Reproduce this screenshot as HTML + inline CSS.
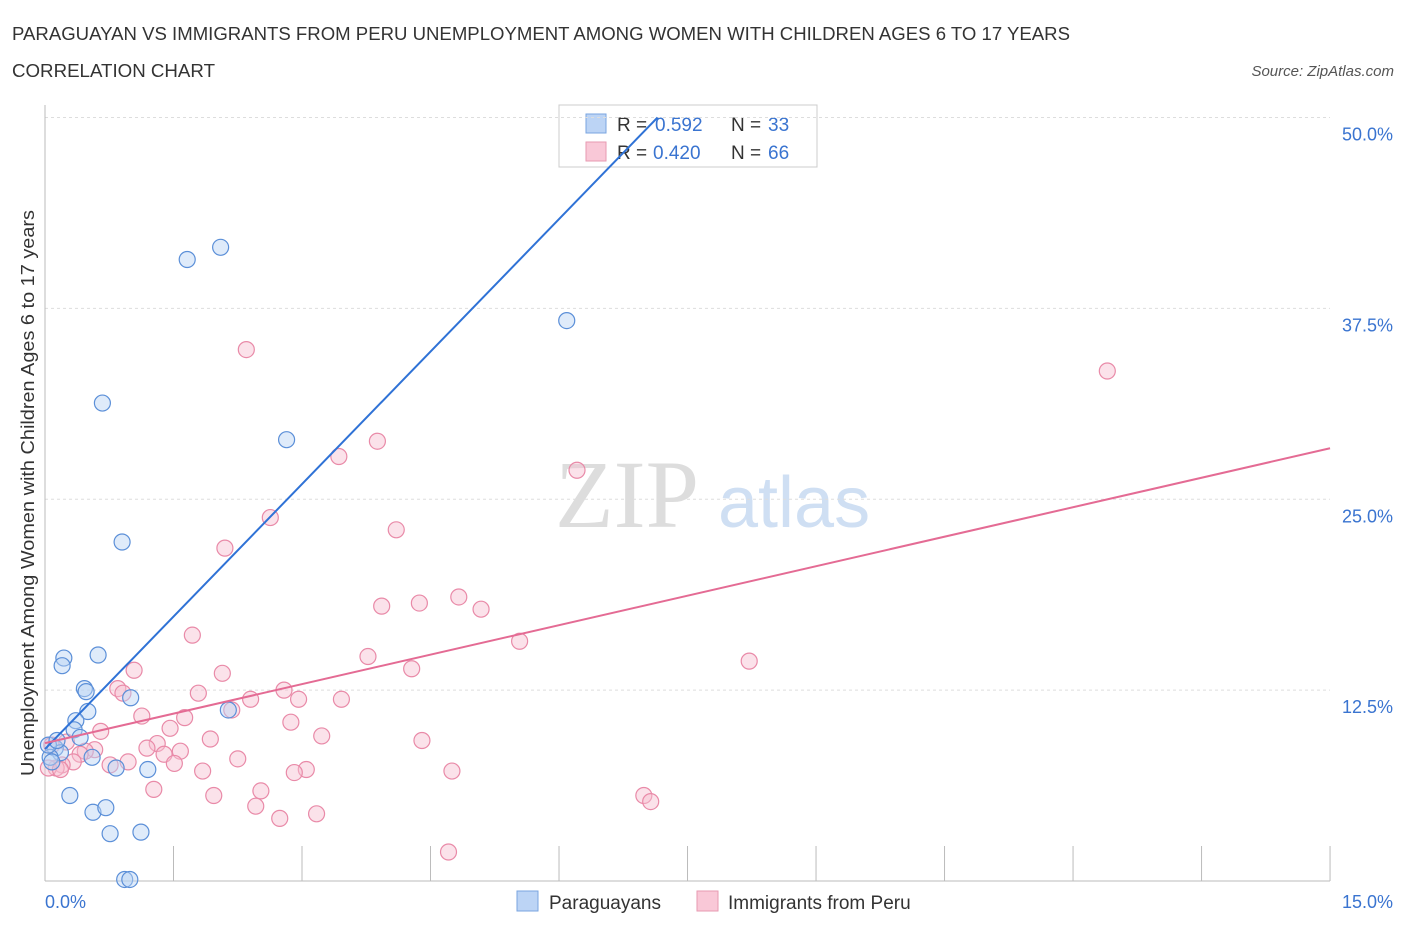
<!DOCTYPE html>
<html><head><meta charset="utf-8"><style>
body{margin:0;background:#fff;font-family:"Liberation Sans",sans-serif;}
svg{display:block}
</style></head><body>
<svg width="1406" height="930" xmlns="http://www.w3.org/2000/svg">
<text x="12" y="40" font-size="18" textLength="1058" lengthAdjust="spacingAndGlyphs" fill="#333">PARAGUAYAN VS IMMIGRANTS FROM PERU UNEMPLOYMENT AMONG WOMEN WITH CHILDREN AGES 6 TO 17 YEARS</text>
<text x="12" y="77" font-size="18" textLength="203" lengthAdjust="spacingAndGlyphs" fill="#333">CORRELATION CHART</text>
<text x="1394" y="76" font-size="15" fill="#555" font-style="italic" text-anchor="end">Source: ZipAtlas.com</text>
<text x="555" y="527" font-size="96" fill="#ddd" font-family="Liberation Serif,serif">ZIP</text>
<text x="718" y="527" font-size="72" fill="#cfdff3">atlas</text>
<g>
<rect x="559" y="105" width="258" height="62" fill="#fff" stroke="#ccc"/>
<rect x="586" y="114" width="20" height="19" fill="#bcd4f5" stroke="#7aa5e0"/>
<rect x="586" y="142" width="20" height="19" fill="#f9c8d7" stroke="#e79ab2"/>
<text x="617" y="131" font-size="19" fill="#333">R =</text>
<text x="655" y="131" font-size="19" fill="#3a74d0">0.592</text>
<text x="731" y="131" font-size="19" fill="#333">N =</text>
<text x="768" y="131" font-size="19" fill="#3a74d0">33</text>
<text x="617" y="159" font-size="19" fill="#333">R =</text>
<text x="653" y="159" font-size="19" fill="#3a74d0">0.420</text>
<text x="731" y="159" font-size="19" fill="#333">N =</text>
<text x="768" y="159" font-size="19" fill="#3a74d0">66</text>
</g>
<g id="grid"></g><g id="axes"></g><g id="pts"></g><g id="lines"></g>
<text transform="translate(34,493) rotate(-90)" font-size="18" textLength="566" lengthAdjust="spacingAndGlyphs" fill="#333" text-anchor="middle">Unemployment Among Women with Children Ages 6 to 17 years</text>
<text x="45" y="908" font-size="18" fill="#3a74d0">0.0%</text>
<text x="1393" y="908" font-size="18" fill="#3a74d0" text-anchor="end">15.0%</text>
<g>
<rect x="517" y="891" width="21" height="20" fill="#bcd4f5" stroke="#7aa5e0"/>
<text x="549" y="909" font-size="19" fill="#333">Paraguayans</text>
<rect x="697" y="891" width="21" height="20" fill="#f9c8d7" stroke="#e79ab2"/>
<text x="728" y="909" font-size="19" fill="#333">Immigrants from Peru</text>
</g>
</svg>
<script>
const yTicks=[12.5,25,37.5,50];
const yTickLabels=["12.5%","25.0%","37.5%","50.0%"];
const xTicks=[0,1.5,3,4.5,6,7.5,9,10.5,12,13.5,15];
const blueX=[1.66,2.05,0.67,2.82,6.09,0.9,0.22,0.2,0.62,0.46,0.48,1.0,0.5,2.14,0.36,0.34,0.41,0.12,0.18,0.06,0.55,0.83,1.2,0.29,0.56,0.71,0.76,1.12,0.93,0.99,0.08,0.04,0.14];
const blueY=[40.7,41.5,31.3,28.9,36.7,22.2,14.6,14.1,14.8,12.6,12.4,12.0,11.1,11.2,10.5,9.9,9.4,8.7,8.4,8.1,8.1,7.4,7.3,5.6,4.5,4.8,3.1,3.2,0.1,0.1,7.8,8.9,9.2];
const pinkX=[2.35,12.4,3.88,3.43,6.21,2.63,4.1,2.1,4.83,4.37,3.93,5.09,5.54,1.72,3.77,8.22,4.28,2.07,1.04,0.85,0.91,2.79,1.79,2.4,2.96,3.46,2.18,1.13,1.63,2.87,1.46,0.65,3.23,1.93,4.4,1.31,1.19,1.58,1.39,0.58,0.47,0.41,2.25,0.97,0.76,1.51,0.33,0.2,1.84,3.05,2.91,4.75,0.13,1.27,2.52,1.97,6.99,7.07,2.46,3.17,2.74,4.71,0.04,0.08,0.25,0.18];
const pinkY=[34.8,33.4,28.8,27.8,26.9,23.8,23.0,21.8,18.6,18.2,18.0,17.8,15.7,16.1,14.7,14.4,13.9,13.6,13.8,12.6,12.3,12.5,12.3,11.9,11.9,11.9,11.2,10.8,10.7,10.4,10.0,9.8,9.5,9.3,9.2,9.0,8.7,8.5,8.3,8.6,8.5,8.3,8.0,7.8,7.6,7.7,7.8,7.6,7.2,7.3,7.1,7.2,7.4,6.0,5.9,5.6,5.6,5.2,4.9,4.4,4.1,1.9,7.4,8.9,9.1,7.3];
const blueLine=[[0,8.64],[7.15,50]];
const pinkLine=[[0,9.03],[15,28.34]];
const NS="http://www.w3.org/2000/svg";
const X=v=>45+v*85.67, Y=v=>881-v*15.27;
function mk(t,a,p){const e=document.createElementNS(NS,t);for(const k in a)e.setAttribute(k,a[k]);document.getElementById(p).appendChild(e);return e;}
yTicks.forEach((t,i)=>{
 let g=mk('line',{x1:45,x2:1330,y1:Y(t),y2:Y(t),stroke:'#ddd','stroke-dasharray':'3,3'},'grid');
 
 
 let l=mk('text',{x:1393,y:Y(t)+23,'font-size':18,fill:'#3a74d0','text-anchor':'end'},'grid');
 l.textContent=yTickLabels[i];
 
 
});
let ax=mk('line',{x1:45,x2:45,y1:105,y2:881,stroke:'#bbb'},'axes');


let bx=mk('line',{x1:45,x2:1330,y1:881,y2:881,stroke:'#bbb'},'axes');


xTicks.forEach(t=>{
 let e=mk('line',{x1:X(t),x2:X(t),y1:846,y2:881,stroke:'#bbb'},'axes');
 
 
});
function pts(xs,ys,fill,stroke,name){
 xs.forEach((x,i)=>{
  let c=mk('circle',{cx:X(x),cy:Y(ys[i]),r:8,fill:fill,stroke:stroke,'stroke-width':1.2,'fill-opacity':0.45},'pts');
  
  
 });
}
pts(pinkX,pinkY,'#f7bfd0','#e98aa8','peru-point');
pts(blueX,blueY,'#b9d2f3','#5b8fd8','paraguayan-point');
let bl=mk('line',{x1:X(blueLine[0][0]),y1:Y(blueLine[0][1]),x2:X(blueLine[1][0]),y2:Y(blueLine[1][1]),stroke:'#2f72d6','stroke-width':2},'lines');


let pl=mk('line',{x1:X(pinkLine[0][0]),y1:Y(pinkLine[0][1]),x2:X(pinkLine[1][0]),y2:Y(pinkLine[1][1]),stroke:'#e46b94','stroke-width':2},'lines');


</script>
</body></html>
